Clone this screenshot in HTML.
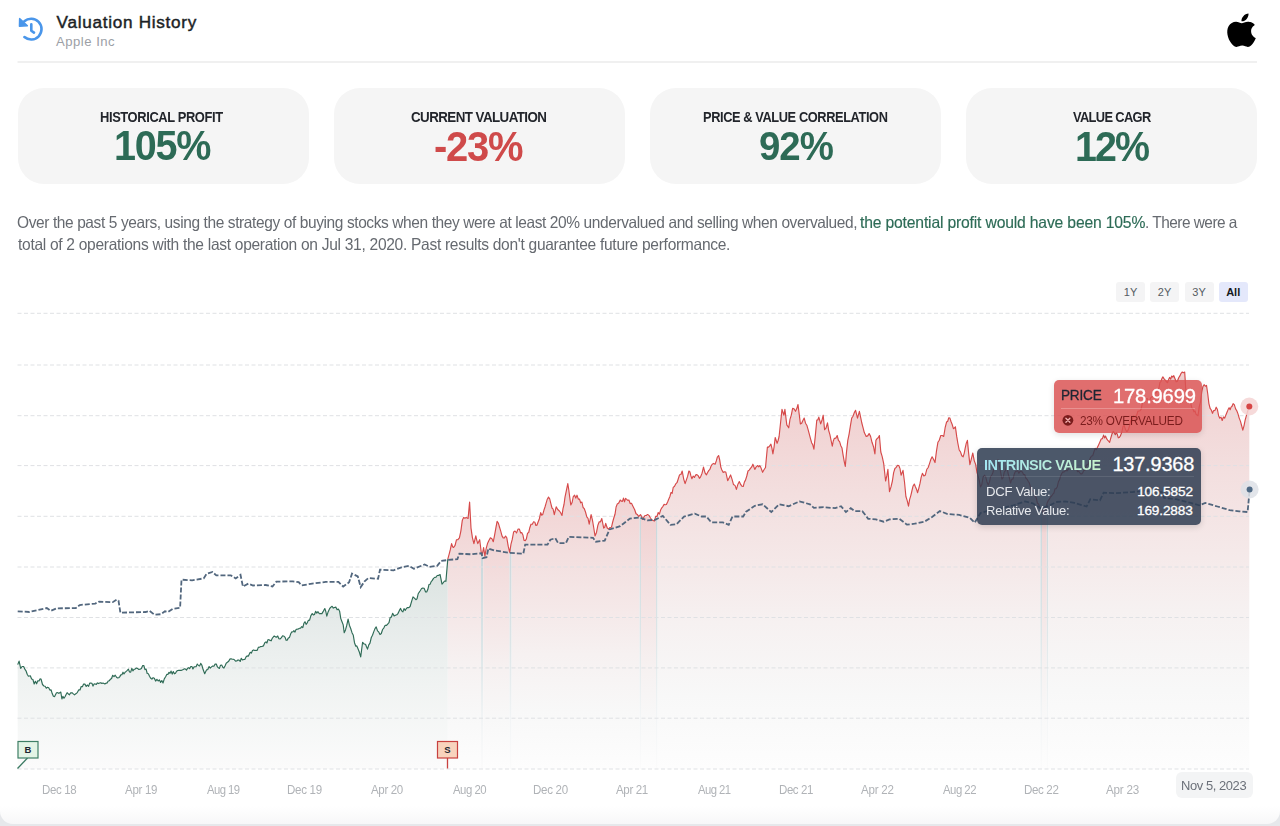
<!DOCTYPE html>
<html><head><meta charset="utf-8"><title>Valuation History</title>
<style>
html,body{margin:0;padding:0}
body{width:1280px;height:826px;overflow:hidden;position:relative;background:#e6e8eb;font-family:"Liberation Sans",sans-serif}
.card{position:absolute;left:0;top:-20px;width:1280px;height:844px;border-radius:13px;background:linear-gradient(to bottom,#ffffff 0,#ffffff 826px,#f7f7f8 844px)}
.t{position:absolute;white-space:nowrap;line-height:1}
.kpi{position:absolute;top:88px;height:96px;width:291px;border-radius:26px;background:#f5f5f5}
.btn{position:absolute;top:282px;height:20px;width:29px;border-radius:3px}
svg{position:absolute;left:0;top:0}
.tip{position:absolute;border-radius:5px}
</style></head><body>
<div class="card"></div>

<svg width="1280" height="826" viewBox="0 0 1280 826" style="pointer-events:none">
<g fill="none" stroke="#4a96ea" stroke-width="2.6" stroke-linecap="round" stroke-linejoin="round">
<path d="M24.3 21.3 A10.4 10.4 0 1 1 24.4 37.1"/>
<path d="M31.3 24.2 V30.7 L34 32.6"/>
</g>
<path d="M19.6 18.6 L19.4 26.2 L27.4 25.7 Z" fill="#4a96ea" stroke="#4a96ea" stroke-width="1.4" stroke-linejoin="round"/>
<line x1="17.5" y1="62" x2="1257" y2="62" stroke="#ebebeb" stroke-width="1.6"/>
<g transform="translate(1224.0,13.6) scale(1.46,1.39)"><path fill="#000" d="M12.152 6.896c-.948 0-2.415-1.078-3.96-1.04-2.04.027-3.91 1.183-4.961 3.014-2.117 3.675-.546 9.103 1.519 12.09 1.013 1.454 2.208 3.09 3.792 3.039 1.52-.065 2.09-.987 3.935-.987 1.831 0 2.35.987 3.96.948 1.637-.026 2.676-1.48 3.676-2.948 1.156-1.688 1.636-3.325 1.662-3.415-.039-.013-3.182-1.221-3.22-4.857-.026-3.04 2.48-4.494 2.597-4.559-1.429-2.09-3.623-2.324-4.39-2.376-2-.156-3.675 1.09-4.61 1.09zM15.53 3.83c.843-1.012 1.4-2.427 1.245-3.83-1.207.052-2.662.805-3.532 1.818-.78.896-1.454 2.338-1.273 3.714 1.338.104 2.715-.688 3.559-1.701"/></g>
</svg>

<div class="kpi" style="left:17.5px"></div>
<div class="kpi" style="left:333.5px"></div>
<div class="kpi" style="left:649.5px"></div>
<div class="kpi" style="left:966.0px"></div>
<div class="t" style="left:56.60px;top:14.11px;font-size:17.17px;letter-spacing:0.706px;font-weight:400;color:#1c1f26;-webkit-text-stroke:0.45px #1c1f26;">Valuation History</div>
<div class="t" style="left:56.00px;top:34.75px;font-size:13.12px;letter-spacing:0.500px;font-weight:400;color:#9ca0a6;">Apple Inc</div>
<div class="t" style="left:99.60px;top:110.50px;font-size:13.77px;letter-spacing:-0.403px;font-weight:600;color:#22252b;transform-origin:0 0;transform:scaleX(0.9361);">HISTORICAL PROFIT</div>
<div class="t" style="left:113.60px;top:125.47px;font-size:42.03px;letter-spacing:-1.337px;font-weight:700;color:#2d6b56;transform-origin:0 0;transform:scaleX(0.9416);">105%</div>
<div class="t" style="left:410.90px;top:110.13px;font-size:14.49px;letter-spacing:-0.610px;font-weight:600;color:#22252b;transform-origin:0 0;transform:scaleX(0.9226);">CURRENT VALUATION</div>
<div class="t" style="left:434.00px;top:125.33px;font-size:42.90px;letter-spacing:-1.378px;font-weight:700;color:#cf4a4a;transform-origin:0 0;transform:scaleX(0.9314);">-23%</div>
<div class="t" style="left:702.75px;top:110.75px;font-size:13.77px;letter-spacing:-0.430px;font-weight:600;color:#22252b;transform-origin:0 0;transform:scaleX(0.9304);">PRICE &amp; VALUE CORRELATION</div>
<div class="t" style="left:758.50px;top:126.40px;font-size:40.94px;letter-spacing:-1.119px;font-weight:700;color:#2d6b56;transform-origin:0 0;transform:scaleX(0.9387);">92%</div>
<div class="t" style="left:1072.80px;top:110.23px;font-size:14.20px;letter-spacing:-0.712px;font-weight:600;color:#22252b;transform-origin:0 0;transform:scaleX(0.9054);">VALUE CAGR</div>
<div class="t" style="left:1074.70px;top:124.92px;font-size:43.04px;letter-spacing:-2.059px;font-weight:700;color:#2d6b56;transform-origin:0 0;transform:scaleX(0.9155);">12%</div>
<div class="t" style="left:16.50px;top:214.76px;font-size:15.87px;letter-spacing:-0.404px;font-weight:400;color:#666a70;transform-origin:0 0;transform:scaleX(0.9766);">Over the past 5 years, using the strategy of buying stocks when they were at least 20% undervalued and selling when overvalued,</div>
<div class="t" style="left:860.00px;top:214.76px;font-size:15.87px;letter-spacing:-0.177px;font-weight:400;color:#2d6b56;transform-origin:0 0;transform:scaleX(0.9898);-webkit-text-stroke:0.15px #2d6b56;">the potential profit would have been 105%</div>
<div class="t" style="left:1145.00px;top:214.76px;font-size:15.87px;letter-spacing:-0.526px;font-weight:400;color:#666a70;transform-origin:0 0;transform:scaleX(0.9718);">. There were a</div>
<div class="t" style="left:17.50px;top:236.76px;font-size:15.87px;letter-spacing:-0.305px;font-weight:400;color:#666a70;transform-origin:0 0;transform:scaleX(0.9814);">total of 2 operations with the last operation on Jul 31, 2020. Past results don't guarantee future performance.</div>
<div class="btn" style="left:1116.1px;background:#f4f4f5"></div>
<div class="t" style="left:1116.1px;width:29px;text-align:center;top:286.5px;font-size:11px;font-weight:400;color:#555b63">1Y</div>
<div class="btn" style="left:1150.1px;background:#f4f4f5"></div>
<div class="t" style="left:1150.1px;width:29px;text-align:center;top:286.5px;font-size:11px;font-weight:400;color:#555b63">2Y</div>
<div class="btn" style="left:1184.5px;background:#f4f4f5"></div>
<div class="t" style="left:1184.5px;width:29px;text-align:center;top:286.5px;font-size:11px;font-weight:400;color:#555b63">3Y</div>
<div class="btn" style="left:1218.7px;background:#e4e8fb"></div>
<div class="t" style="left:1218.7px;width:29px;text-align:center;top:286.5px;font-size:11px;font-weight:700;color:#15181d">All</div>
<svg width="1280" height="826" viewBox="0 0 1280 826">
<defs>
<linearGradient id="gg" x1="0" y1="313" x2="0" y2="769" gradientUnits="userSpaceOnUse">
<stop offset="0" stop-color="#d3dcd9"/><stop offset="0.55" stop-color="#e9edec"/><stop offset="1" stop-color="#fbfbfb"/></linearGradient>
<linearGradient id="rg" x1="0" y1="313" x2="0" y2="769" gradientUnits="userSpaceOnUse">
<stop offset="0" stop-color="#efcaca"/><stop offset="0.5" stop-color="#f1dcdc"/><stop offset="1" stop-color="#f9f7f7"/></linearGradient>
<linearGradient id="sg" x1="0" y1="313" x2="0" y2="769" gradientUnits="userSpaceOnUse">
<stop offset="0" stop-color="#c9d3d6"/><stop offset="1" stop-color="#f5f5f5"/></linearGradient>
</defs>
<defs><linearGradient id="s0" x1="0" y1="559.1" x2="0" y2="769" gradientUnits="userSpaceOnUse"><stop offset="0" stop-color="#d9e2df"/><stop offset="0.3" stop-color="#e6ebea"/><stop offset="0.6" stop-color="#f0f3f2"/><stop offset="1" stop-color="#fbfbfb"/></linearGradient><linearGradient id="s1" x1="0" y1="502.0" x2="0" y2="769" gradientUnits="userSpaceOnUse"><stop offset="0" stop-color="#f1d0d0"/><stop offset="0.25" stop-color="#f3dfdf"/><stop offset="0.45" stop-color="#f5e9e9"/><stop offset="0.6" stop-color="#f6f1f1"/><stop offset="0.8" stop-color="#f8f8f8"/><stop offset="1" stop-color="#fdfdfd"/></linearGradient><linearGradient id="s2" x1="0" y1="549.0" x2="0" y2="769" gradientUnits="userSpaceOnUse"><stop offset="0" stop-color="#c9d7db"/><stop offset="0.45" stop-color="#dce5e7"/><stop offset="0.8" stop-color="#f3f5f6"/><stop offset="1" stop-color="#fbfbfb"/></linearGradient><linearGradient id="s3" x1="0" y1="521.3" x2="0" y2="769" gradientUnits="userSpaceOnUse"><stop offset="0" stop-color="#f1d0d0"/><stop offset="0.25" stop-color="#f3dfdf"/><stop offset="0.45" stop-color="#f5e9e9"/><stop offset="0.6" stop-color="#f6f1f1"/><stop offset="0.8" stop-color="#f8f8f8"/><stop offset="1" stop-color="#fdfdfd"/></linearGradient><linearGradient id="s4" x1="0" y1="542.4" x2="0" y2="769" gradientUnits="userSpaceOnUse"><stop offset="0" stop-color="#c9d7db"/><stop offset="0.45" stop-color="#dce5e7"/><stop offset="0.8" stop-color="#f3f5f6"/><stop offset="1" stop-color="#fbfbfb"/></linearGradient><linearGradient id="s5" x1="0" y1="483.6" x2="0" y2="769" gradientUnits="userSpaceOnUse"><stop offset="0" stop-color="#f1d0d0"/><stop offset="0.25" stop-color="#f3dfdf"/><stop offset="0.45" stop-color="#f5e9e9"/><stop offset="0.6" stop-color="#f6f1f1"/><stop offset="0.8" stop-color="#f8f8f8"/><stop offset="1" stop-color="#fdfdfd"/></linearGradient><linearGradient id="s6" x1="0" y1="514.6" x2="0" y2="769" gradientUnits="userSpaceOnUse"><stop offset="0" stop-color="#c9d7db"/><stop offset="0.45" stop-color="#dce5e7"/><stop offset="0.8" stop-color="#f3f5f6"/><stop offset="1" stop-color="#fbfbfb"/></linearGradient><linearGradient id="s7" x1="0" y1="515.5" x2="0" y2="769" gradientUnits="userSpaceOnUse"><stop offset="0" stop-color="#f1d0d0"/><stop offset="0.25" stop-color="#f3dfdf"/><stop offset="0.45" stop-color="#f5e9e9"/><stop offset="0.6" stop-color="#f6f1f1"/><stop offset="0.8" stop-color="#f8f8f8"/><stop offset="1" stop-color="#fdfdfd"/></linearGradient><linearGradient id="s8" x1="0" y1="515.4" x2="0" y2="769" gradientUnits="userSpaceOnUse"><stop offset="0" stop-color="#c9d7db"/><stop offset="0.45" stop-color="#dce5e7"/><stop offset="0.8" stop-color="#f3f5f6"/><stop offset="1" stop-color="#fbfbfb"/></linearGradient><linearGradient id="s9" x1="0" y1="404.5" x2="0" y2="769" gradientUnits="userSpaceOnUse"><stop offset="0" stop-color="#f1d0d0"/><stop offset="0.25" stop-color="#f3dfdf"/><stop offset="0.45" stop-color="#f5e9e9"/><stop offset="0.6" stop-color="#f6f1f1"/><stop offset="0.8" stop-color="#f8f8f8"/><stop offset="1" stop-color="#fdfdfd"/></linearGradient><linearGradient id="s10" x1="0" y1="507.7" x2="0" y2="769" gradientUnits="userSpaceOnUse"><stop offset="0" stop-color="#c9d7db"/><stop offset="0.45" stop-color="#dce5e7"/><stop offset="0.8" stop-color="#f3f5f6"/><stop offset="1" stop-color="#fbfbfb"/></linearGradient><linearGradient id="s11" x1="0" y1="504.7" x2="0" y2="769" gradientUnits="userSpaceOnUse"><stop offset="0" stop-color="#f1d0d0"/><stop offset="0.25" stop-color="#f3dfdf"/><stop offset="0.45" stop-color="#f5e9e9"/><stop offset="0.6" stop-color="#f6f1f1"/><stop offset="0.8" stop-color="#f8f8f8"/><stop offset="1" stop-color="#fdfdfd"/></linearGradient><linearGradient id="s12" x1="0" y1="500.3" x2="0" y2="769" gradientUnits="userSpaceOnUse"><stop offset="0" stop-color="#c9d7db"/><stop offset="0.45" stop-color="#dce5e7"/><stop offset="0.8" stop-color="#f3f5f6"/><stop offset="1" stop-color="#fbfbfb"/></linearGradient><linearGradient id="s13" x1="0" y1="372.1" x2="0" y2="769" gradientUnits="userSpaceOnUse"><stop offset="0" stop-color="#f1d0d0"/><stop offset="0.25" stop-color="#f3dfdf"/><stop offset="0.45" stop-color="#f5e9e9"/><stop offset="0.6" stop-color="#f6f1f1"/><stop offset="0.8" stop-color="#f8f8f8"/><stop offset="1" stop-color="#fdfdfd"/></linearGradient></defs>
<polygon points="17.7,664.6 19.1,661.1 20.7,668.5 23.6,666.5 28.4,676.2 30.3,675.8 34.2,684.0 39.0,681.0 41.0,679.0 43.9,686.0 48.7,687.8 54.6,696.6 56.5,692.7 60.8,692.0 61.9,699.0 68.1,693.7 72.0,692.7 75.9,693.7 78.8,689.8 83.6,684.0 87.5,685.0 95.2,684.0 103.0,683.0 104.9,684.0 112.7,675.3 116.5,677.2 126.2,671.4 134.0,669.4 138.8,669.4 142.7,665.6 149.5,676.2 154.3,678.2 158.2,681.0 163.0,683.0 166.9,674.3 170.0,673.3 176.6,671.3 184.4,668.8 194.0,666.9 201.8,665.0 204.7,673.7 206.6,669.8 211.5,666.9 216.3,664.0 218.3,667.8 225.0,665.9 229.9,659.1 236.7,661.0 242.5,660.0 248.3,656.2 250.2,652.3 256.0,650.4 261.9,646.5 264.8,642.7 275.4,636.9 281.2,637.8 284.1,636.3 286.1,640.3 292.8,632.0 300.6,628.1 308.3,620.4 312.2,613.6 318.0,611.7 321.9,613.6 324.8,608.5 326.8,616.2 329.7,608.5 334.5,607.5 338.4,609.0 343.2,624.9 344.2,632.7 348.1,619.1 352.0,632.7 355.8,646.2 357.8,648.2 360.7,656.9 362.6,642.3 365.5,644.3 367.5,649.1 371.3,637.5 376.2,626.9 380.0,634.6 383.9,627.8 387.8,624.0 392.6,613.3 395.5,615.2 399.4,610.4 405.2,610.4 410.1,606.5 413.0,596.8 415.9,599.7 422.7,588.1 425.6,592.0 432.3,580.4 437.2,575.5 440.1,574.6 442.0,584.2 445.9,581.3 447.8,559.1 447.8,769 17.7,769" fill="url(#s0)"/>
<polygon points="447.8,559.1 451.6,543.6 453.6,547.5 456.5,539.7 459.4,537.8 462.3,520.4 466.2,517.5 468.1,518.4 469.6,502.0 471.0,528.1 473.9,543.6 475.8,535.9 477.8,543.6 479.7,539.7 481.0,550.3 481.0,769 447.8,769" fill="url(#s1)"/>
<polygon points="481.0,550.3 481.6,555.2 483.2,549.0 483.2,769 481.0,769" fill="url(#s2)"/>
<polygon points="483.2,549.0 483.6,547.5 484.9,556.2 487.5,543.6 490.4,537.8 493.3,541.7 497.1,521.3 502.0,535.9 506.8,537.8 509.6,551.8 509.6,769 483.2,769" fill="url(#s3)"/>
<polygon points="509.6,551.8 509.7,552.3 511.6,542.4 511.6,769 509.6,769" fill="url(#s4)"/>
<polygon points="511.6,542.4 513.6,532.0 516.5,533.0 519.4,529.1 525.2,540.7 531.0,524.2 534.9,522.3 536.9,525.2 540.7,512.6 542.7,514.6 548.5,497.1 554.3,514.6 556.2,506.8 559.1,510.7 562.0,515.5 565.0,497.1 567.8,483.6 570.8,504.9 574.6,495.2 579.5,499.1 584.3,508.7 589.2,524.2 591.1,514.6 595.0,535.9 597.9,525.2 601.8,518.5 603.7,528.1 605.7,523.3 608.6,529.1 611.5,527.2 617.3,503.9 620.2,500.0 628.9,500.0 632.8,505.9 634.7,509.7 638.6,516.5 639.6,515.5 639.6,769 511.6,769" fill="url(#s5)"/>
<polygon points="639.6,515.5 640.5,514.6 641.0,515.8 641.0,769 639.6,769" fill="url(#s6)"/>
<polygon points="641.0,515.8 642.5,519.4 646.3,515.5 650.2,517.5 653.1,520.4 656.0,517.5 656.0,769 641.0,769" fill="url(#s7)"/>
<polygon points="656.0,517.5 657.0,516.5 657.6,515.4 657.6,769 656.0,769" fill="url(#s8)"/>
<polygon points="657.6,515.4 661.8,507.8 667.6,502.0 674.4,486.5 678.3,478.7 682.2,471.0 685.1,483.6 688.9,471.0 691.9,478.7 695.7,474.9 700.6,476.8 703.5,467.1 706.4,474.9 712.2,464.2 715.1,464.2 718.6,455.5 721.9,470.0 725.8,472.0 727.7,480.7 730.6,474.9 733.5,484.6 736.4,489.4 739.3,481.6 743.2,486.5 748.0,471.0 752.9,464.2 754.8,469.4 757.7,465.5 760.7,467.1 762.6,472.3 765.5,467.5 767.4,447.1 770.9,444.2 772.9,453.9 775.2,437.5 777.1,443.3 779.1,436.5 782.0,409.4 783.9,415.2 784.9,409.4 786.8,424.9 788.7,427.8 792.6,408.4 795.5,411.3 798.0,404.5 800.4,423.9 804.2,418.1 808.1,429.7 813.9,449.1 816.8,420.0 818.8,417.1 820.7,423.9 823.2,415.2 824.6,429.7 827.5,422.9 832.3,446.2 834.3,438.4 837.2,435.5 842.0,448.1 845.3,466.5 847.8,440.4 851.7,418.1 855.6,410.3 857.5,418.1 859.4,411.3 864.3,432.6 866.2,436.5 869.1,433.6 872.0,442.3 874.9,453.9 875.9,440.4 879.4,435.5 880.8,452.0 883.7,463.6 885.6,481.0 887.9,469.4 889.5,491.7 892.4,481.0 894.9,468.5 898.8,465.5 901.1,475.2 903.0,470.4 905.9,496.5 908.5,506.2 910.8,495.6 914.3,484.0 917.6,492.7 922.4,473.3 925.3,475.2 928.2,467.5 932.1,456.8 935.0,462.6 937.9,442.3 940.8,435.5 943.7,436.5 946.6,422.0 949.9,418.1 953.4,428.7 955.4,426.8 959.2,450.0 963.1,456.8 967.4,440.4 969.9,464.6 972.8,453.0 975.7,464.6 980.5,486.9 984.4,475.2 988.3,484.9 994.1,467.5 998.0,459.7 1001.9,479.1 1006.7,465.5 1010.6,483.0 1015.4,471.4 1021.2,471.4 1027.0,479.1 1032.8,490.7 1038.7,504.3 1040.4,507.7 1040.4,769 657.6,769" fill="url(#s9)"/>
<polygon points="1040.4,507.7 1042.0,511.0 1042.0,769 1040.4,769" fill="url(#s10)"/>
<polygon points="1042.0,511.0 1043.5,514.0 1046.8,504.7 1046.8,769 1042.0,769" fill="url(#s11)"/>
<polygon points="1046.8,504.7 1048.3,500.4 1048.4,500.3 1048.4,769 1046.8,769" fill="url(#s12)"/>
<polygon points="1048.4,500.3 1056.1,488.8 1061.9,473.3 1072.1,466.5 1081.8,473.8 1089.0,461.7 1093.9,452.0 1098.7,444.7 1103.6,435.1 1109.6,442.3 1113.3,431.4 1119.3,437.5 1124.2,425.4 1126.6,431.4 1132.6,418.1 1139.9,410.8 1144.7,398.7 1149.6,401.2 1156.9,391.5 1162.9,376.9 1166.5,381.8 1173.8,375.7 1176.2,381.8 1181.1,373.3 1184.7,372.1 1185.9,391.5 1192.0,408.4 1198.0,415.7 1202.9,386.6 1206.5,385.4 1208.9,403.6 1212.5,413.3 1216.2,407.2 1218.6,415.7 1222.2,420.5 1227.1,412.1 1233.1,403.6 1236.8,410.8 1239.2,418.1 1242.8,430.2 1246.4,415.7 1249.3,406.5 1249.3,769 1048.4,769" fill="url(#s13)"/>
<line x1="17.5" y1="313.3" x2="1249" y2="313.3" stroke="#dfe1e4" stroke-width="1" stroke-dasharray="4 2.5"/>
<line x1="17.5" y1="365.0" x2="1249" y2="365.0" stroke="#dfe1e4" stroke-width="1" stroke-dasharray="4 2.5"/>
<line x1="17.5" y1="415.7" x2="1249" y2="415.7" stroke="#dfe1e4" stroke-width="1" stroke-dasharray="4 2.5"/>
<line x1="17.5" y1="465.6" x2="1249" y2="465.6" stroke="#dfe1e4" stroke-width="1" stroke-dasharray="4 2.5"/>
<line x1="17.5" y1="516.3" x2="1249" y2="516.3" stroke="#dfe1e4" stroke-width="1" stroke-dasharray="4 2.5"/>
<line x1="17.5" y1="567.0" x2="1249" y2="567.0" stroke="#dfe1e4" stroke-width="1" stroke-dasharray="4 2.5"/>
<line x1="17.5" y1="617.5" x2="1249" y2="617.5" stroke="#dfe1e4" stroke-width="1" stroke-dasharray="4 2.5"/>
<line x1="17.5" y1="667.9" x2="1249" y2="667.9" stroke="#dfe1e4" stroke-width="1" stroke-dasharray="4 2.5"/>
<line x1="17.5" y1="718.2" x2="1249" y2="718.2" stroke="#dfe1e4" stroke-width="1" stroke-dasharray="4 2.5"/>
<line x1="17.5" y1="769.0" x2="1249" y2="769.0" stroke="#dfe1e4" stroke-width="1" stroke-dasharray="4 2.5"/>
<polyline points="17.7,664.6 19.1,661.1 20.7,668.5 22.1,666.5 23.6,666.5 24.8,669.1 26.0,670.8 27.2,674.2 28.4,676.2 30.3,675.8 31.6,679.0 32.9,679.5 34.2,684.0 35.4,681.3 36.6,683.8 37.8,680.8 39.0,681.0 40.0,678.9 41.0,679.0 42.5,684.5 43.9,686.0 45.1,686.3 46.3,688.2 47.5,687.3 48.7,687.8 49.9,690.1 51.1,689.9 52.2,693.6 53.4,696.3 54.6,696.6 56.5,692.7 57.6,692.6 58.6,693.3 59.7,692.9 60.8,692.0 61.9,699.0 62.9,696.4 64.0,698.3 65.0,696.7 66.0,694.7 67.1,692.7 68.1,693.7 69.4,694.8 70.7,692.9 72.0,692.7 73.3,693.9 74.6,694.9 75.9,693.7 77.3,692.6 78.8,689.8 80.0,690.0 81.2,686.5 82.4,686.7 83.6,684.0 84.9,684.1 86.2,686.4 87.5,685.0 88.6,686.4 89.7,683.1 90.8,683.1 91.9,683.3 93.0,686.1 94.1,683.9 95.2,684.0 96.3,684.4 97.4,682.9 98.5,683.6 99.7,683.0 100.8,682.7 101.9,683.5 103.0,683.0 104.9,684.0 106.0,683.1 107.1,683.1 108.2,681.0 109.4,680.7 110.5,679.2 111.6,678.5 112.7,675.3 114.0,676.6 115.2,675.2 116.5,677.2 117.6,678.0 118.7,677.8 119.7,676.9 120.8,674.9 121.9,674.8 123.0,672.2 124.0,674.0 125.1,672.3 126.2,671.4 127.3,670.3 128.4,669.1 129.5,672.0 130.7,672.2 131.8,668.3 132.9,670.9 134.0,669.4 135.2,669.0 136.4,668.0 137.6,668.6 138.8,669.4 140.1,669.2 141.4,668.4 142.7,665.6 143.8,665.5 145.0,669.6 146.1,669.1 147.2,673.5 148.4,673.8 149.5,676.2 150.7,678.2 151.9,679.1 153.1,677.7 154.3,678.2 155.6,681.1 156.9,679.3 158.2,681.0 159.4,679.8 160.6,682.4 161.8,680.6 163.0,683.0 164.3,678.9 165.6,676.8 166.9,674.3 167.9,674.4 169.0,672.3 170.0,673.3 171.1,671.1 172.2,674.1 173.3,671.6 174.4,673.8 175.5,673.2 176.6,671.3 177.7,670.5 178.8,670.4 179.9,670.3 181.1,670.4 182.2,669.9 183.3,669.4 184.4,668.8 185.5,669.1 186.5,670.1 187.6,668.2 188.7,667.7 189.7,668.6 190.8,666.5 191.9,666.5 192.9,669.0 194.0,666.9 195.1,666.7 196.2,666.6 197.3,664.1 198.5,665.5 199.6,665.9 200.7,663.4 201.8,665.0 203.2,669.8 204.7,673.7 206.6,669.8 207.8,669.6 209.1,666.6 210.3,668.1 211.5,666.9 212.7,666.0 213.9,666.2 215.1,664.1 216.3,664.0 217.3,666.7 218.3,667.8 219.4,668.4 220.5,665.3 221.7,665.1 222.8,667.2 223.9,668.1 225.0,665.9 226.2,663.2 227.4,662.3 228.7,661.2 229.9,659.1 231.0,658.7 232.2,659.2 233.3,659.3 234.4,659.8 235.6,661.1 236.7,661.0 237.9,660.0 239.0,660.1 240.2,661.5 241.3,658.3 242.5,660.0 243.7,659.5 244.8,659.4 246.0,657.0 247.1,655.9 248.3,656.2 250.2,652.3 251.4,653.1 252.5,650.5 253.7,649.9 254.8,650.5 256.0,650.4 257.2,650.4 258.4,647.2 259.5,647.3 260.7,646.6 261.9,646.5 263.4,645.9 264.8,642.7 265.9,641.9 266.9,643.0 268.0,639.6 269.0,639.7 270.1,640.4 271.2,640.8 272.2,638.4 273.3,637.0 274.3,636.0 275.4,636.9 276.6,637.2 277.7,636.0 278.9,638.7 280.0,639.0 281.2,637.8 282.6,635.8 284.1,636.3 285.1,637.4 286.1,640.3 287.2,640.1 288.3,638.1 289.5,637.4 290.6,634.1 291.7,631.9 292.8,632.0 293.9,630.6 295.0,632.1 296.1,629.4 297.3,629.2 298.4,628.9 299.5,628.3 300.6,628.1 301.7,626.6 302.8,627.6 303.9,623.4 305.0,621.7 306.1,624.4 307.2,623.0 308.3,620.4 309.6,620.1 310.9,615.6 312.2,613.6 313.4,615.0 314.5,614.5 315.7,611.3 316.8,613.1 318.0,611.7 319.3,613.7 320.6,613.6 321.9,613.6 323.4,611.1 324.8,608.5 325.8,611.5 326.8,616.2 328.2,611.7 329.7,608.5 330.9,607.2 332.1,606.3 333.3,608.1 334.5,607.5 335.8,607.1 337.1,609.7 338.4,609.0 339.6,611.2 340.8,618.6 342.0,621.7 343.2,624.9 344.2,632.7 345.5,629.9 346.8,625.2 348.1,619.1 349.4,625.2 350.7,628.5 352.0,632.7 353.3,635.3 354.5,642.7 355.8,646.2 356.8,645.9 357.8,648.2 359.2,651.7 360.7,656.9 362.6,642.3 364.1,644.0 365.5,644.3 366.5,646.8 367.5,649.1 368.8,644.9 370.0,643.1 371.3,637.5 372.5,635.3 373.8,631.6 375.0,628.6 376.2,626.9 377.5,630.9 378.7,631.9 380.0,634.6 381.3,633.5 382.6,629.5 383.9,627.8 385.2,625.3 386.5,625.4 387.8,624.0 389.0,622.6 390.2,617.3 391.4,617.1 392.6,613.3 394.1,615.9 395.5,615.2 396.8,614.8 398.1,613.3 399.4,610.4 400.6,608.4 401.7,610.9 402.9,611.9 404.0,608.6 405.2,610.4 406.4,608.5 407.6,607.5 408.9,607.6 410.1,606.5 411.6,601.3 413.0,596.8 414.4,598.1 415.9,599.7 417.0,598.9 418.2,593.8 419.3,592.1 420.4,590.5 421.6,588.5 422.7,588.1 424.1,588.3 425.6,592.0 426.7,592.0 427.8,589.6 429.0,584.5 430.1,584.3 431.2,581.6 432.3,580.4 433.5,578.4 434.8,577.4 436.0,577.3 437.2,575.5 438.6,575.4 440.1,574.6 442.0,584.2 443.3,582.7 444.6,581.0 445.9,581.3 447.8,559.1" fill="none" stroke="#2f6b56" stroke-width="1.15" stroke-linejoin="round"/>
<polyline points="447.8,559.1 449.1,554.4 450.3,549.7 451.6,543.6 452.6,546.7 453.6,547.5 455.1,545.4 456.5,539.7 457.9,539.7 459.4,537.8 460.9,530.8 462.3,520.4 463.6,517.5 464.9,518.3 466.2,517.5 468.1,518.4 469.6,502.0 471.0,528.1 472.4,537.6 473.9,543.6 475.8,535.9 476.8,540.3 477.8,543.6 479.7,539.7 481.6,555.2 482.6,553.0 483.6,547.5 484.9,556.2 486.2,548.4 487.5,543.6 488.9,540.6 490.4,537.8 491.9,538.7 493.3,541.7 494.6,535.1 495.8,528.4 497.1,521.3 498.3,523.0 499.6,527.5 500.8,531.4 502.0,535.9 503.2,538.0 504.4,537.9 505.6,536.0 506.8,537.8 508.2,546.2 509.7,552.3 511.0,544.1 512.3,539.2 513.6,532.0 515.0,531.0 516.5,533.0 518.0,529.1 519.4,529.1 520.6,532.9 521.7,532.6 522.9,534.9 524.0,540.3 525.2,540.7 526.4,538.9 527.5,533.3 528.7,532.6 529.8,527.7 531.0,524.2 532.3,524.3 533.6,521.8 534.9,522.3 535.9,525.5 536.9,525.2 538.2,521.8 539.4,518.7 540.7,512.6 541.7,515.2 542.7,514.6 543.9,510.3 545.0,507.0 546.2,502.8 547.3,499.2 548.5,497.1 549.7,498.9 550.8,503.3 552.0,508.0 553.1,509.1 554.3,514.6 556.2,506.8 557.7,509.5 559.1,510.7 560.5,512.5 562.0,515.5 563.0,508.6 564.0,504.5 565.0,497.1 566.4,490.3 567.8,483.6 568.8,490.0 569.8,497.7 570.8,504.9 572.1,502.5 573.3,496.7 574.6,495.2 575.8,498.1 577.0,495.2 578.3,499.1 579.5,499.1 580.7,502.9 581.9,502.0 583.1,507.5 584.3,508.7 585.5,512.0 586.8,516.8 588.0,518.4 589.2,524.2 591.1,514.6 592.4,519.9 593.7,527.5 595.0,535.9 596.5,532.4 597.9,525.2 599.2,521.8 600.5,521.8 601.8,518.5 603.7,528.1 604.7,527.4 605.7,523.3 607.2,528.0 608.6,529.1 610.0,527.5 611.5,527.2 612.7,522.0 613.8,518.0 615.0,514.3 616.1,507.0 617.3,503.9 618.8,502.9 620.2,500.0 621.3,501.2 622.4,501.4 623.5,498.1 624.5,501.8 625.6,498.4 626.7,499.4 627.8,500.4 628.9,500.0 630.2,503.6 631.5,503.3 632.8,505.9 634.7,509.7 636.0,513.7 637.3,514.4 638.6,516.5 640.5,514.6 641.5,516.2 642.5,519.4 643.8,517.4 645.0,515.5 646.3,515.5 647.6,514.5 648.9,515.4 650.2,517.5 651.7,519.7 653.1,520.4 654.4,521.1 655.7,516.4 657.0,516.5 658.2,512.5 659.4,514.1 660.6,510.1 661.8,507.8 663.0,506.3 664.1,504.4 665.3,504.7 666.4,504.5 667.6,502.0 668.7,499.2 669.9,496.5 671.0,492.5 672.1,493.3 673.3,487.2 674.4,486.5 675.7,483.9 677.0,482.7 678.3,478.7 679.6,474.7 680.9,474.5 682.2,471.0 683.7,479.1 685.1,483.6 686.4,479.9 687.6,476.4 688.9,471.0 689.9,472.0 690.9,475.9 691.9,478.7 693.2,476.0 694.4,477.5 695.7,474.9 696.9,474.6 698.2,475.7 699.4,478.3 700.6,476.8 702.0,473.4 703.5,467.1 705.0,472.9 706.4,474.9 707.6,472.6 708.7,470.6 709.9,469.4 711.0,466.3 712.2,464.2 713.7,463.4 715.1,464.2 716.3,460.9 717.4,457.0 718.6,455.5 719.7,459.8 720.8,467.1 721.9,470.0 723.2,472.5 724.5,471.8 725.8,472.0 727.7,480.7 729.2,477.8 730.6,474.9 732.0,479.1 733.5,484.6 735.0,485.4 736.4,489.4 737.8,484.6 739.3,481.6 740.6,484.4 741.9,486.3 743.2,486.5 744.4,482.1 745.6,479.9 746.8,476.0 748.0,471.0 749.2,470.1 750.5,468.3 751.7,466.9 752.9,464.2 754.8,469.4 756.2,466.9 757.7,465.5 758.7,466.9 759.7,465.7 760.7,467.1 762.6,472.3 764.0,469.8 765.5,467.5 767.4,447.1 768.6,447.2 769.7,445.9 770.9,444.2 771.9,448.2 772.9,453.9 774.0,447.5 775.2,437.5 777.1,443.3 778.1,440.5 779.1,436.5 780.5,423.3 782.0,409.4 783.9,415.2 784.9,409.4 786.8,424.9 788.7,427.8 790.0,419.4 791.3,415.1 792.6,408.4 794.0,408.9 795.5,411.3 796.8,408.6 798.0,404.5 799.2,414.1 800.4,423.9 801.7,423.2 802.9,420.6 804.2,418.1 805.5,423.2 806.8,425.2 808.1,429.7 809.3,434.2 810.4,438.4 811.6,442.7 812.7,444.6 813.9,449.1 815.3,435.9 816.8,420.0 817.8,420.0 818.8,417.1 820.7,423.9 822.0,420.3 823.2,415.2 824.6,429.7 826.0,428.2 827.5,422.9 828.7,430.6 829.9,434.6 831.1,440.5 832.3,446.2 833.3,441.0 834.3,438.4 835.8,438.3 837.2,435.5 838.4,440.4 839.6,441.7 840.8,445.7 842.0,448.1 843.1,455.1 844.2,461.3 845.3,466.5 846.5,452.1 847.8,440.4 849.1,434.1 850.4,425.9 851.7,418.1 853.0,416.2 854.3,412.6 855.6,410.3 857.5,418.1 859.4,411.3 860.6,417.1 861.8,423.0 863.1,427.8 864.3,432.6 866.2,436.5 867.7,435.9 869.1,433.6 870.5,436.1 872.0,442.3 873.5,446.7 874.9,453.9 875.9,440.4 877.1,438.5 878.2,437.7 879.4,435.5 880.8,452.0 882.2,456.7 883.7,463.6 885.6,481.0 886.8,475.9 887.9,469.4 889.5,491.7 891.0,486.9 892.4,481.0 893.6,472.9 894.9,468.5 896.2,467.4 897.5,465.4 898.8,465.5 900.0,468.6 901.1,475.2 903.0,470.4 904.5,482.0 905.9,496.5 907.2,500.6 908.5,506.2 909.6,499.6 910.8,495.6 912.0,490.5 913.1,486.0 914.3,484.0 915.4,486.8 916.5,489.3 917.6,492.7 918.8,488.3 920.0,483.4 921.2,477.1 922.4,473.3 923.8,475.9 925.3,475.2 926.8,469.4 928.2,467.5 929.5,463.6 930.8,459.5 932.1,456.8 933.5,459.3 935.0,462.6 936.5,450.9 937.9,442.3 939.3,440.2 940.8,435.5 942.2,435.5 943.7,436.5 945.2,427.4 946.6,422.0 947.7,421.2 948.8,417.8 949.9,418.1 951.1,421.8 952.2,424.5 953.4,428.7 954.4,428.1 955.4,426.8 956.7,436.4 957.9,443.5 959.2,450.0 960.5,451.9 961.8,455.8 963.1,456.8 964.2,453.3 965.2,448.1 966.3,443.1 967.4,440.4 968.6,452.9 969.9,464.6 971.3,459.1 972.8,453.0 974.2,460.6 975.7,464.6 976.9,472.0 978.1,476.2 979.3,480.7 980.5,486.9 981.8,484.6 983.1,477.1 984.4,475.2 985.7,476.9 987.0,481.9 988.3,484.9 989.5,481.9 990.6,476.5 991.8,475.0 992.9,472.5 994.1,467.5 995.4,464.4 996.7,462.0 998.0,459.7 999.3,465.1 1000.6,471.8 1001.9,479.1 1003.1,477.6 1004.3,471.8 1005.5,470.7 1006.7,465.5 1008.0,473.0 1009.3,477.5 1010.6,483.0 1011.8,479.1 1013.0,479.1 1014.2,474.3 1015.4,471.4 1016.6,471.1 1017.7,470.7 1018.9,473.3 1020.0,471.4 1021.2,471.4 1022.4,472.1 1023.5,474.4 1024.7,474.5 1025.8,478.0 1027.0,479.1 1028.2,481.2 1029.3,482.9 1030.5,487.2 1031.6,489.7 1032.8,490.7 1034.0,491.5 1035.2,496.3 1036.3,498.0 1037.5,503.3 1038.7,504.3 1039.9,507.9 1041.1,508.1 1042.3,510.6 1043.5,514.0 1044.7,509.2 1045.9,509.2 1047.1,503.0 1048.3,500.4 1049.4,499.2 1050.5,497.0 1051.6,496.0 1052.8,494.2 1053.9,493.1 1055.0,488.9 1056.1,488.8 1057.3,486.7 1058.4,481.8 1059.6,479.6 1060.7,475.7 1061.9,473.3 1062.9,471.8 1063.9,472.1 1065.0,471.1 1066.0,470.0 1067.0,470.9 1068.0,469.6 1069.0,466.7 1070.1,466.9 1071.1,467.0 1072.1,466.5 1073.2,469.0 1074.3,469.7 1075.3,469.1 1076.4,467.8 1077.5,471.7 1078.6,471.1 1079.6,472.5 1080.7,473.8 1081.8,473.8 1082.8,472.6 1083.9,470.3 1084.9,470.3 1085.9,466.4 1086.9,464.7 1088.0,464.8 1089.0,461.7 1090.2,458.1 1091.5,456.0 1092.7,455.7 1093.9,452.0 1095.1,448.4 1096.3,449.7 1097.5,447.3 1098.7,444.7 1099.9,442.0 1101.2,439.0 1102.4,438.6 1103.6,435.1 1104.6,437.9 1105.6,436.1 1106.6,438.6 1107.6,440.1 1108.6,441.1 1109.6,442.3 1110.8,438.0 1112.1,433.6 1113.3,431.4 1114.3,432.8 1115.3,434.7 1116.3,432.7 1117.3,434.4 1118.3,437.8 1119.3,437.5 1120.5,435.6 1121.8,432.1 1123.0,426.5 1124.2,425.4 1125.4,429.3 1126.6,431.4 1127.6,431.1 1128.6,429.0 1129.6,425.6 1130.6,420.7 1131.6,421.7 1132.6,418.1 1133.6,415.9 1134.7,416.6 1135.7,416.8 1136.8,414.8 1137.8,411.4 1138.9,411.0 1139.9,410.8 1141.1,409.4 1142.3,403.3 1143.5,402.2 1144.7,398.7 1145.9,399.0 1147.2,398.6 1148.4,401.1 1149.6,401.2 1150.6,398.0 1151.7,396.9 1152.7,396.6 1153.8,393.9 1154.8,392.5 1155.9,393.2 1156.9,391.5 1157.9,390.0 1158.9,388.1 1159.9,382.7 1160.9,381.5 1161.9,378.6 1162.9,376.9 1164.1,378.9 1165.3,380.1 1166.5,381.8 1167.5,382.7 1168.6,379.6 1169.6,377.4 1170.7,379.1 1171.7,376.0 1172.8,377.1 1173.8,375.7 1175.0,378.8 1176.2,381.8 1177.4,381.3 1178.7,377.8 1179.9,375.9 1181.1,373.3 1182.3,372.0 1183.5,372.7 1184.7,372.1 1185.9,391.5 1186.9,393.3 1187.9,398.1 1189.0,400.0 1190.0,401.3 1191.0,404.5 1192.0,408.4 1193.0,409.1 1194.0,411.8 1195.0,410.8 1196.0,414.1 1197.0,415.1 1198.0,415.7 1199.2,406.8 1200.5,401.8 1201.7,392.2 1202.9,386.6 1204.1,384.7 1205.3,386.2 1206.5,385.4 1207.7,393.5 1208.9,403.6 1210.1,408.3 1211.3,410.0 1212.5,413.3 1213.7,410.6 1215.0,410.4 1216.2,407.2 1217.4,409.6 1218.6,415.7 1219.8,418.2 1221.0,417.1 1222.2,420.5 1223.4,417.0 1224.7,418.1 1225.9,414.9 1227.1,412.1 1228.1,409.6 1229.1,407.7 1230.1,409.7 1231.1,407.1 1232.1,406.3 1233.1,403.6 1234.3,404.6 1235.6,408.9 1236.8,410.8 1238.0,413.9 1239.2,418.1 1240.4,421.1 1241.6,425.5 1242.8,430.2 1244.0,425.8 1245.2,419.9 1246.4,415.7 1247.8,410.6 1249.3,406.5" fill="none" stroke="#d64a4a" stroke-width="1.15" stroke-linejoin="round"/>
<polyline points="17.7,611.3 29.4,612.0 46.8,608.0 50.7,610.8 56.5,608.4 75.9,608.0 79.7,605.0 95.2,603.6 99.1,601.6 112.7,602.2 116.5,599.7 118.5,600.7 120.4,612.7 145.6,612.0 149.5,610.8 154.3,614.6 161.0,614.2 165.0,611.3 167.9,612.0 172.7,608.8 180.1,607.8 181.5,579.7 192.1,580.3 203.7,578.4 206.6,573.9 212.5,572.0 216.3,575.4 230.9,575.4 235.7,578.4 240.5,574.9 242.9,586.5 248.3,583.6 253.1,585.5 265.7,585.0 272.5,586.5 276.4,581.6 292.8,581.3 298.7,582.2 301.6,585.5 312.2,583.6 325.8,581.9 338.4,581.9 343.2,586.6 349.1,582.3 352.0,573.6 357.8,576.5 360.7,587.1 364.6,581.3 368.4,578.0 378.1,578.8 380.0,569.7 393.6,570.3 401.4,567.4 409.1,565.8 413.9,568.7 424.6,564.5 429.4,566.8 437.2,565.8 441.1,561.0 447.8,560.0 457.4,559.1 459.4,553.7 471.0,554.3 481.6,553.3 482.6,558.1 486.5,557.2 488.4,548.5 494.2,550.4 509.7,552.9 523.3,553.7 525.2,544.6 547.5,544.6 550.4,539.7 555.3,538.2 558.2,543.2 565.9,543.2 568.8,536.8 593.0,537.8 595.9,541.7 604.7,540.7 609.5,529.5 620.2,526.2 629.9,518.5 639.6,517.5 647.3,520.4 655.0,519.8 662.8,515.9 670.5,524.8 676.4,524.3 684.1,516.5 694.8,513.6 701.5,516.5 706.4,516.5 711.2,522.3 722.8,522.3 728.7,524.8 732.5,516.5 743.2,516.5 746.1,511.7 754.8,505.8 762.6,504.3 771.3,512.0 779.1,504.3 788.7,506.2 799.4,501.4 810.0,504.3 813.9,507.8 823.6,507.2 835.2,508.2 841.0,506.2 845.9,512.0 850.7,508.2 854.6,511.1 862.3,511.1 868.2,518.8 875.9,519.4 883.7,521.7 889.5,519.4 899.2,518.8 906.9,524.6 914.7,523.7 924.4,521.7 932.1,516.9 939.9,511.1 947.6,514.0 959.2,514.9 969.9,517.8 974.7,522.7 980.5,513.0 990.2,510.1 1001.9,508.2 1013.5,505.3 1025.1,501.4 1032.8,503.3 1040.6,508.2 1048.3,506.2 1056.1,502.0 1065.0,501.4 1074.5,502.9 1086.6,506.5 1090.3,499.2 1100.0,500.4 1103.6,492.7 1115.7,493.2 1132.6,492.0 1144.7,490.8 1161.7,492.0 1164.1,498.0 1176.2,499.2 1190.8,502.9 1199.2,505.3 1205.3,502.9 1217.4,506.5 1229.5,510.1 1239.2,511.3 1247.6,512.0 1248.9,498.0 1249.6,489.5" fill="none" stroke="#52677e" stroke-width="1.8" stroke-dasharray="5 2"/>
<line x1="27.5" y1="758" x2="17.5" y2="768.5" stroke="#3a7a62" stroke-width="1.3"/>
<rect x="18" y="741.5" width="20" height="16.5" fill="#e3f4e6" stroke="#3f7f66" stroke-width="1.2"/>
<text x="28" y="753.3" text-anchor="middle" font-family="Liberation Sans" font-weight="700" font-size="9.5" fill="#1d2530">B</text>
<line x1="447.5" y1="758" x2="447.5" y2="768.5" stroke="#c8413f" stroke-width="1.3"/>
<rect x="437.5" y="741.5" width="20" height="16.5" fill="#f8d3bd" stroke="#c8413f" stroke-width="1.2"/>
<text x="447.5" y="753.3" text-anchor="middle" font-family="Liberation Sans" font-weight="700" font-size="9.5" fill="#1d2530">S</text>
<circle cx="1249.3" cy="406.5" r="9" fill="#f5d3d3" opacity="0.85"/><circle cx="1249.3" cy="406.5" r="3" fill="#d64545"/>
<circle cx="1249.6" cy="489.5" r="9" fill="#dde1e6" opacity="0.85"/><circle cx="1249.6" cy="489.5" r="3" fill="#4f6a85"/>
</svg>
<div class="tip" style="left:1054.4px;top:380px;width:147.5px;height:53px;background:rgba(218,82,82,0.84);box-shadow:0 2px 6px rgba(0,0,0,0.12)"></div>
<div style="position:absolute;left:1061px;top:408px;width:134px;height:1px;background:rgba(255,255,255,0.25)"></div>
<svg width="1280" height="826" viewBox="0 0 1280 826"><circle cx="1067.9" cy="420.3" r="5.4" fill="#7a1c1c"/><path d="M1065.9 418.3 L1069.9 422.3 M1069.9 418.3 L1065.9 422.3" stroke="#f3b0b0" stroke-width="1.3" stroke-linecap="round"/></svg>
<div class="t" style="left:1060.90px;top:389.38px;font-size:13.91px;letter-spacing:-0.191px;font-weight:400;color:#1f2633;transform-origin:0 0;transform:scaleX(0.9768);-webkit-text-stroke:0.3px #1f2633;">PRICE</div>
<div class="t" style="left:1112.75px;top:386.33px;font-size:20.43px;letter-spacing:-0.198px;font-weight:400;color:#ffffff;transform-origin:0 0;transform:scaleX(0.9895);-webkit-text-stroke:0.3px #ffffff;">178.9699</div>
<div class="t" style="left:1079.60px;top:414.88px;font-size:12.32px;letter-spacing:-0.233px;font-weight:400;color:#7a1c1c;transform-origin:0 0;transform:scaleX(0.9525);">23% OVERVALUED</div>
<div class="tip" style="left:977.1px;top:448px;width:223.5px;height:77.3px;background:rgba(46,60,81,0.86);box-shadow:0 2px 6px rgba(0,0,0,0.15)"></div>
<div style="position:absolute;left:984px;top:476px;width:210px;height:1px;background:rgba(255,255,255,0.10)"></div>
<div class="t" style="left:983.60px;top:456.54px;font-size:15.36px;letter-spacing:-0.550px;font-weight:700;color:#b0ecd8;transform-origin:0 0;transform:scaleX(0.9416);background:linear-gradient(to right,#a2e6f2,#c7f2cc);-webkit-background-clip:text;background-clip:text;color:transparent;">INTRINSIC VALUE</div>
<div class="t" style="left:1112.40px;top:454.66px;font-size:19.93px;letter-spacing:-0.171px;font-weight:400;color:#ffffff;-webkit-text-stroke:0.3px #ffffff;">137.9368</div>
<div class="t" style="left:985.90px;top:484.92px;font-size:13.62px;letter-spacing:-0.287px;font-weight:400;color:#e6e8ec;transform-origin:0 0;transform:scaleX(0.9687);">DCF Value:</div>
<div class="t" style="left:1137.20px;top:484.92px;font-size:13.62px;letter-spacing:-0.143px;font-weight:400;color:#ffffff;-webkit-text-stroke:0.3px #ffffff;">106.5852</div>
<div class="t" style="left:986.00px;top:503.62px;font-size:13.62px;letter-spacing:-0.224px;font-weight:400;color:#e6e8ec;transform-origin:0 0;transform:scaleX(0.9573);">Relative Value:</div>
<div class="t" style="left:1137.00px;top:503.62px;font-size:13.62px;letter-spacing:-0.143px;font-weight:400;color:#ffffff;-webkit-text-stroke:0.3px #ffffff;">169.2883</div>
<div class="t" style="left:42.00px;top:785.08px;font-size:11.96px;letter-spacing:-0.365px;font-weight:400;color:#b0b3b7;transform-origin:0 0;transform:scaleX(0.9595);">Dec 18</div>
<div class="t" style="left:124.50px;top:785.08px;font-size:11.96px;letter-spacing:-0.301px;font-weight:400;color:#b0b3b7;transform-origin:0 0;transform:scaleX(0.9629);">Apr 19</div>
<div class="t" style="left:206.75px;top:785.08px;font-size:11.96px;letter-spacing:-0.561px;font-weight:400;color:#b0b3b7;transform-origin:0 0;transform:scaleX(0.9447);">Aug 19</div>
<div class="t" style="left:287.25px;top:785.08px;font-size:11.96px;letter-spacing:-0.301px;font-weight:400;color:#b0b3b7;transform-origin:0 0;transform:scaleX(0.9649);">Dec 19</div>
<div class="t" style="left:370.50px;top:785.08px;font-size:11.96px;letter-spacing:-0.373px;font-weight:400;color:#b0b3b7;transform-origin:0 0;transform:scaleX(0.9657);">Apr 20</div>
<div class="t" style="left:452.50px;top:785.08px;font-size:11.96px;letter-spacing:-0.494px;font-weight:400;color:#b0b3b7;transform-origin:0 0;transform:scaleX(0.9500);">Aug 20</div>
<div class="t" style="left:533.25px;top:785.08px;font-size:11.96px;letter-spacing:-0.301px;font-weight:400;color:#b0b3b7;transform-origin:0 0;transform:scaleX(0.9649);">Dec 20</div>
<div class="t" style="left:615.50px;top:785.08px;font-size:11.96px;letter-spacing:-0.373px;font-weight:400;color:#b0b3b7;transform-origin:0 0;transform:scaleX(0.9657);">Apr 21</div>
<div class="t" style="left:698.00px;top:785.08px;font-size:11.96px;letter-spacing:-0.561px;font-weight:400;color:#b0b3b7;transform-origin:0 0;transform:scaleX(0.9447);">Aug 21</div>
<div class="t" style="left:778.50px;top:785.08px;font-size:11.96px;letter-spacing:-0.437px;font-weight:400;color:#b0b3b7;transform-origin:0 0;transform:scaleX(0.9622);">Dec 21</div>
<div class="t" style="left:860.75px;top:785.08px;font-size:11.96px;letter-spacing:-0.237px;font-weight:400;color:#b0b3b7;transform-origin:0 0;transform:scaleX(0.9686);">Apr 22</div>
<div class="t" style="left:943.20px;top:785.08px;font-size:11.96px;letter-spacing:-0.523px;font-weight:400;color:#b0b3b7;transform-origin:0 0;transform:scaleX(0.9495);">Aug 22</div>
<div class="t" style="left:1023.50px;top:785.08px;font-size:11.96px;letter-spacing:-0.372px;font-weight:400;color:#b0b3b7;transform-origin:0 0;transform:scaleX(0.9676);">Dec 22</div>
<div class="t" style="left:1106.00px;top:785.08px;font-size:11.96px;letter-spacing:-0.201px;font-weight:400;color:#b0b3b7;transform-origin:0 0;transform:scaleX(0.9737);">Apr 23</div>
<div style="position:absolute;left:1176px;top:771.5px;width:77px;height:26px;border-radius:6px;background:#f3f4f5"></div>
<div class="t" style="left:1181.20px;top:778.94px;font-size:13.48px;letter-spacing:-0.437px;font-weight:400;color:#6b7079;transform-origin:0 0;transform:scaleX(0.9606);">Nov 5, 2023</div>
</body></html>
